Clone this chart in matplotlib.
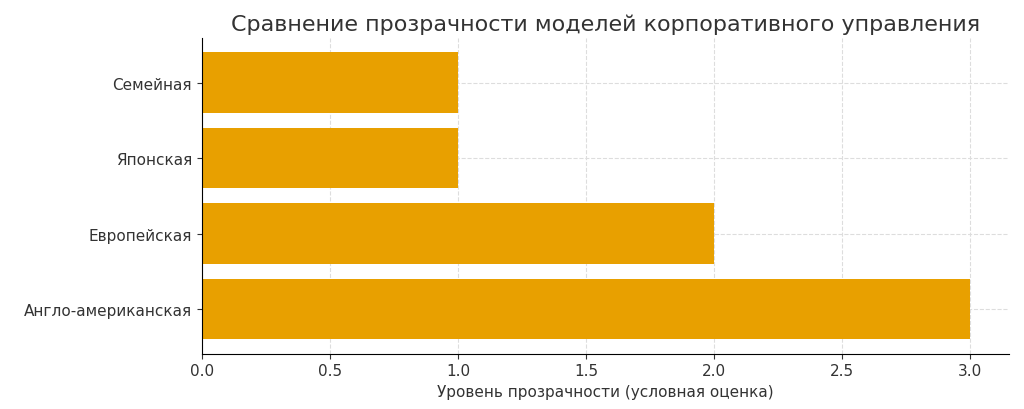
import matplotlib
matplotlib.use("Agg")
import matplotlib.pyplot as plt

models = ["Англо-американская", "Европейская", "Японская", "Семейная"]
transparency = [3, 2, 1, 1]

fig, ax = plt.subplots(figsize=(10.24, 4.10), dpi=100)
ax.barh(models, transparency, color="#E8A000", height=0.8, zorder=2)
ax.set_title("Сравнение прозрачности моделей корпоративного управления", fontsize=16, color="#333333")
ax.set_xlabel("Уровень прозрачности (условная оценка)", fontsize=11, color="#333333")
ax.tick_params(labelsize=11, colors="#333333")
ax.grid(True, linestyle="--", color="#dddddd", zorder=0)
ax.spines["top"].set_visible(False)
ax.spines["right"].set_visible(False)
ax.set_xlim(0, 3.15)
fig.subplots_adjust(left=0.197, right=0.985, top=0.905, bottom=0.135)
fig.savefig("out.png")
